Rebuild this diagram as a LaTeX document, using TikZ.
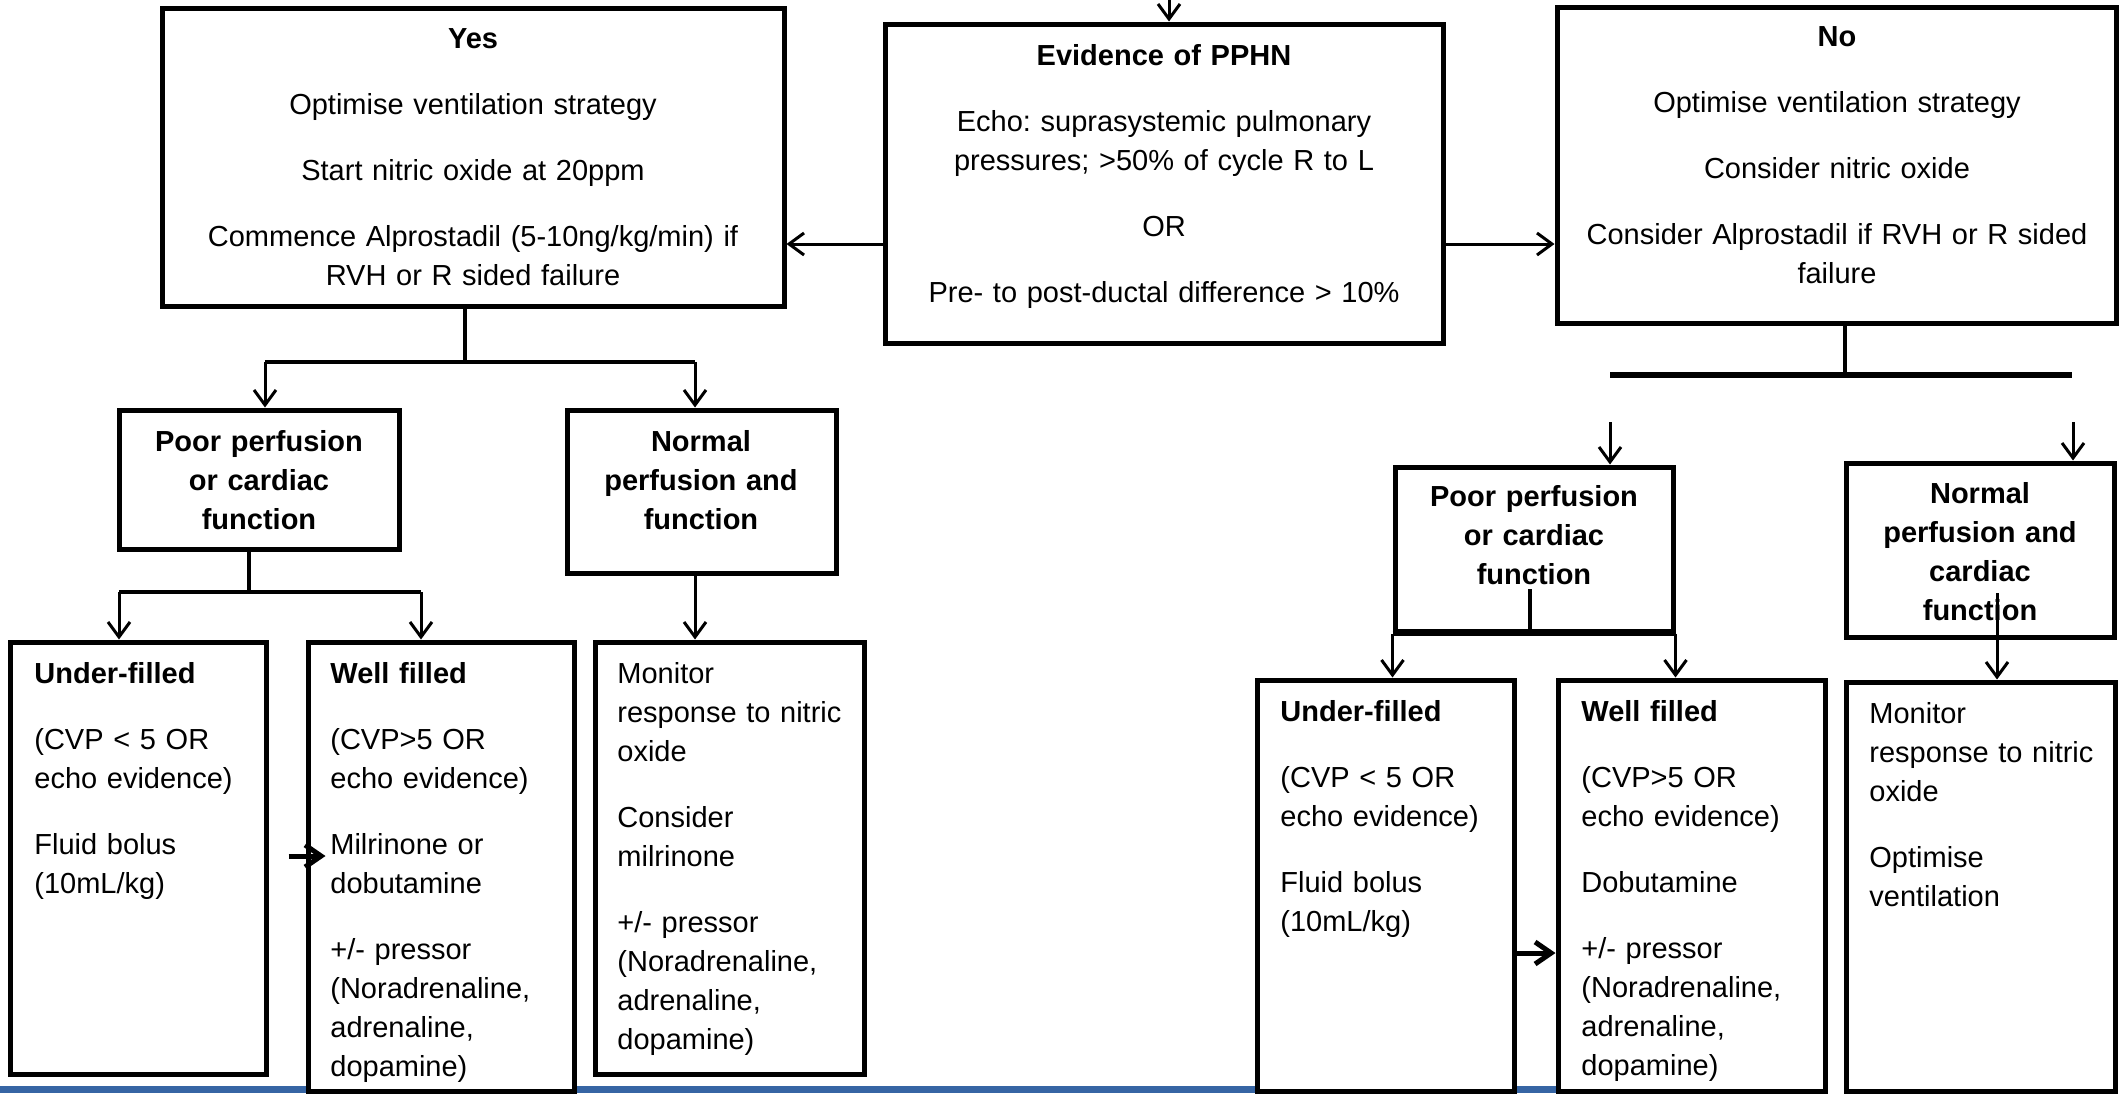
\documentclass[tikz,border=0pt]{standalone}
\usepackage{fontspec}
\setmainfont{Liberation Sans}
\usetikzlibrary{arrows.meta,fit,calc}
\newcommand{\bodyfont}{\fontsize{14.5pt}{19.5pt}\selectfont}
\definecolor{slideblue}{RGB}{54,101,164}
\frenchspacing

\begin{document}
\begin{tikzpicture}[x=0.5pt,y=-0.5pt,
  box/.style={draw, line width=2.5pt, fill=white, inner sep=0pt},
  conn/.style={line width=2pt},
  bar/.style={line width=2.8pt},
  arr/.style={line width=1.5pt, -{Straight Barb[length=7.5pt,width=11pt]}},
  arrthick/.style={line width=2.5pt, -{Straight Barb[length=8pt,width=11pt]}},
  ctxt/.style={inner sep=0pt, font=\bodyfont, anchor=north, align=center, text width=300pt},
  ltxt/.style={inner sep=0pt, font=\bodyfont, anchor=north west, align=left, text width=140pt}]
\useasboundingbox (0,0) rectangle (2119,1093);

% strip along the bottom edge
\fill[slideblue] (0,1086) rectangle (1556,1093);

% top row
\node[box, fit={(162,8) (784,306)}] (yes) {};
\node[box, fit={(885,24) (1443,343)}] (pphn) {};
\node[box, fit={(1557,7) (2116,323)}] (no) {};

\node[ctxt] (yest) at (473,28.5) {\textbf{Yes}\\[13.5pt]
Optimise ventilation strategy\\[13.5pt]
Start nitric oxide at 20ppm\\[13.5pt]
Commence Alprostadil (5-10ng/kg/min) if\\
RVH or R sided failure};
\node[ctxt] (pphnt) at (1164,44.5) {\textbf{Evidence of PPHN}\\[13.5pt]
Echo: suprasystemic pulmonary\\
pressures; >50\% of cycle R to L\\[13.5pt]
OR\\[13.5pt]
Pre- to post-ductal difference > 10\%};
\node[ctxt] (not) at (1837,26.5) {\textbf{No}\\[13.5pt]
Optimise ventilation strategy\\[13.5pt]
Consider nitric oxide\\[13.5pt]
Consider Alprostadil if RVH or R sided\\
failure};

% yes side
\node[box, fit={(119,410) (399,549)}] (lpoor) {};
\node[box, fit={(567,410) (836,573)}] (lnorm) {};
\node[ctxt] (lpoort) at (259,430.5) {\textbf{Poor perfusion}\\ \textbf{or cardiac}\\ \textbf{function}};
\node[ctxt] (lnormt) at (701,430.5) {\textbf{Normal}\\ \textbf{perfusion and}\\ \textbf{function}};

\node[box, fit={(10,642) (266,1074)}] (luf) {};
\node[box, fit={(308,642) (574,1091)}] (lwf) {};
\node[box, fit={(595,642) (864,1074)}] (lmon) {};
\node[ltxt] (luft) at (34,662.5) {\textbf{Under-filled}\\[13.5pt]
(CVP < 5 OR\\ echo evidence)\\[13.5pt]
Fluid bolus\\ (10mL/kg)};
\node[ltxt] (lwft) at (330,662.5) {\textbf{Well filled}\\[13.5pt]
(CVP>5 OR\\ echo evidence)\\[13.5pt]
Milrinone or\\ dobutamine\\[13.5pt]
+/- pressor\\ (Noradrenaline,\\ adrenaline,\\ dopamine)};
\node[ltxt] (lmont) at (617,662.5) {Monitor\\ response to nitric\\ oxide\\[13.5pt]
Consider\\ milrinone\\[13.5pt]
+/- pressor\\ (Noradrenaline,\\ adrenaline,\\ dopamine)};

% no side
\node[box, fit={(1395,467) (1673,631)}] (rpoor) {};
\node[box, fit={(1846,463) (2114,637)}] (rnorm) {};
\node[ctxt] (rpoort) at (1534,485.5) {\textbf{Poor perfusion}\\ \textbf{or cardiac}\\ \textbf{function}};
\node[ctxt] (rnormt) at (1980,482.5) {\textbf{Normal}\\ \textbf{perfusion and}\\ \textbf{cardiac}\\ \textbf{function}};

\node[box, fit={(1257,680) (1514,1091)}] (ruf) {};
\node[box, fit={(1558,680) (1825,1091)}] (rwf) {};
\node[box, fit={(1846,682) (2115,1091)}] (rmon) {};
\node[ltxt] (ruft) at (1280,700.5) {\textbf{Under-filled}\\[13.5pt]
(CVP < 5 OR\\ echo evidence)\\[13.5pt]
Fluid bolus\\ (10mL/kg)};
\node[ltxt] (rwft) at (1581,700.5) {\textbf{Well filled}\\[13.5pt]
(CVP>5 OR\\ echo evidence)\\[13.5pt]
Dobutamine\\[13.5pt]
+/- pressor\\ (Noradrenaline,\\ adrenaline,\\ dopamine)};
\node[ltxt] (rmont) at (1869,702.5) {Monitor\\ response to nitric\\ oxide\\[13.5pt]
Optimise\\ ventilation};

% connectors, top row
\coordinate (in) at (1169,0);
\draw[arr] (in) -- (in |- pphn.north);
\draw[arr] (pphn.west |- 0,244) -- (yes.east |- 0,244);
\draw[arr] (pphn.east |- 0,244) -- (no.west |- 0,244);

% yes branch
\coordinate (yj) at (465,362);
\draw[conn] (yes.south -| yj) -- (yj);
\draw[conn] (265,362) -- (695,362);
\draw[arr] (265,362) -- (lpoor.north -| 265,0);
\draw[arr] (695,362) -- (lnorm.north -| 695,0);

\coordinate (lpj) at (249,592);
\draw[conn] (lpoor.south -| lpj) -- (lpj);
\draw[conn] (119,592) -- (421,592);
\draw[arr] (119,592) -- (luf.north -| 119,0);
\draw[arr] (421,592) -- (lwf.north -| 421,0);
\draw[arr] (lnorm.south -| 695,0) -- (lmon.north -| 695,0);
\draw[arrthick] ($(luf.east |- 0,856)+(20,0)$) -- ($(lwf.west |- 0,856)+(20,0)$);

% no branch
\coordinate (nj) at (1845,375);
\draw[conn] (no.south -| nj) -- (nj);
\draw[bar] (1610,375) -- (2072,375);
\coordinate (ra) at (1610,422);
\coordinate (rb) at (2073,422);
\draw[arr] (ra) -- (ra |- rpoor.north);
\draw[arr] (rb) -- (rb |- rnorm.north);

\coordinate (rpj) at (1530,589);
\draw[conn] (rpj) -- (rpj |- rpoor.south);
\draw[bar] (rpoor.south west) -- (rpoor.south east);
\draw[arr] (rpoor.south west) -- (rpoor.south west |- ruf.north);
\draw[arr] (rpoor.south east) -- (rpoor.south east |- rwf.north);
\coordinate (rnj) at (1997,593);
\draw[arr] (rnj) -- (rnj |- rmon.north);
\draw[arrthick] (ruf.east |- 0,953) -- (rwf.west |- 0,953);

\end{tikzpicture}
\end{document}
